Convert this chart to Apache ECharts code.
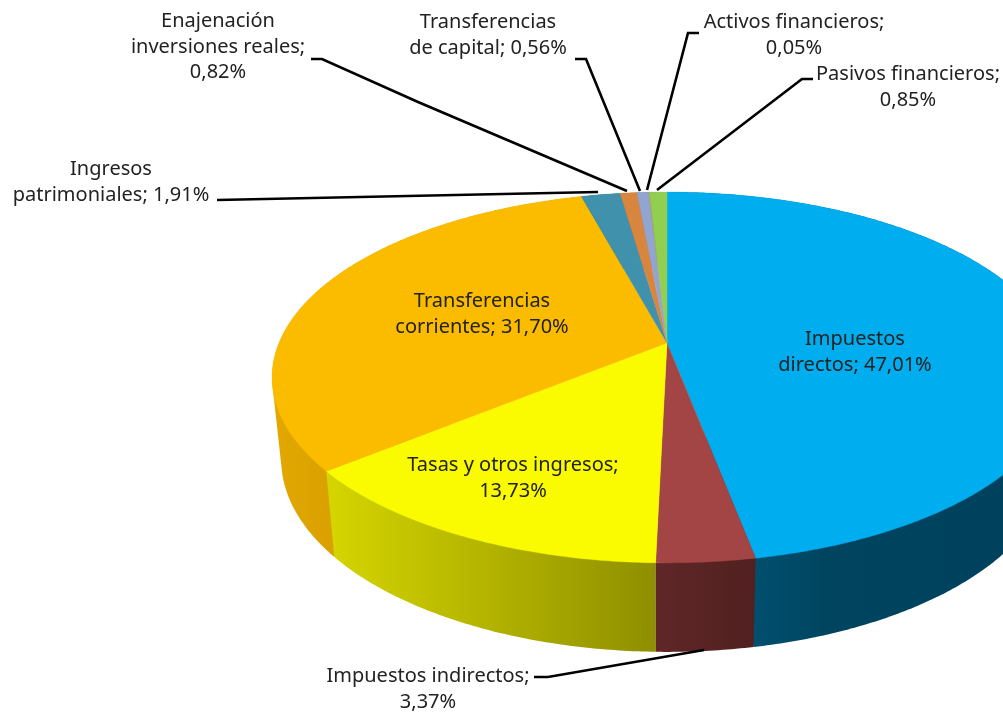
<!DOCTYPE html>
<html><head><meta charset="utf-8">
<style>html,body{margin:0;padding:0;background:#fff}#c{width:1003px;height:715px}</style>
<script src="https://cdn.jsdelivr.net/npm/echarts@6/dist/echarts.min.js"></script>
</head><body><div id="c"></div>
<script>
const categories = ['Impuestos directos','Impuestos indirectos','Tasas y otros ingresos','Transferencias corrientes','Ingresos patrimoniales','Enajenación inversiones reales','Transferencias de capital','Activos financieros','Pasivos financieros'];
const shares = [47.01,3.37,13.73,31.70,1.91,0.82,0.56,0.05,0.85];
const labelTemplates = ['Impuestos\ndirectos; {p}','Impuestos indirectos;\n{p}','Tasas y otros ingresos;\n{p}','Transferencias\ncorrientes; {p}','Ingresos\npatrimoniales; {p}','Enajenación\ninversiones reales;\n{p}','Transferencias\nde capital; {p}','Activos financieros;\n{p}','Pasivos financieros;\n{p}'];
const topColors = ['#00AEEF','#A34544','#FAFA00','#FBBC00','#3F91AC','#D8853E','#92A5D0','#B59A8A','#92CF50'];
const sideStops = [
  [752,1003,[[0,'#00506F'],[0.3,'#00445F'],[1,'#00425E']]],
  [655,752,[[0,'#602727'],[1,'#512020']]],
  [334,655,[[0,'#D4D400'],[1,'#8F8F00']]],
  [272,334,[[0,'#E3A800'],[1,'#D9A000']]],
  [0,1003,[[0,'#2A6070'],[1,'#2A6070']]],
  [0,1003,[[0,'#905828'],[1,'#905828']]],
  [0,1003,[[0,'#606E8A'],[1,'#606E8A']]],
  [0,1003,[[0,'#786658'],[1,'#786658']]],
  [0,1003,[[0,'#608A34'],[1,'#608A34']]]
];
const labelAnchors = [[855,352],[428,689],[513,478],[482,314],[111,182],[218,47],[488,35],[794,35],[908,87]];
const leaderPaths = [null,
  [[534,677],[548,677],[704,650]],null,null,
  [[217,200],[598,192]],
  [[311,59],[322,59],[418,102],[627,191]],
  [[575,59],[586,59],[640,191]],
  [[699,33],[688,33],[647,190]],
  [[813,79],[802,79],[657,190]]
];
const TOP = {x:667,y:343,r:388,s:179,k:0.186};
const BASE = {x:667,y:424,r:379,s:185.5,k:0.186};
function project(f,a){const u=Math.sin(a),v=-Math.cos(a),w=1-f.k*v;return [f.x+f.r*u/w,f.y+f.s*v/w];}
function arc(f,a0,a1){const n=Math.max(2,Math.ceil((a1-a0)/0.01));const p=[];for(let i=0;i<=n;i++)p.push(project(f,a0+(a1-a0)*i/n));return p;}
function hull(points){
  const p=points.slice().sort((a,b)=>a[0]-b[0]||a[1]-b[1]);
  const cross=(o,a,b)=>(a[0]-o[0])*(b[1]-o[1])-(a[1]-o[1])*(b[0]-o[0]);
  const lo=[],up=[];
  for(const q of p){while(lo.length>1&&cross(lo[lo.length-2],lo[lo.length-1],q)<=0)lo.pop();lo.push(q);}
  for(let i=p.length-1;i>=0;i--){const q=p[i];while(up.length>1&&cross(up[up.length-2],up[up.length-1],q)<=0)up.pop();up.push(q);}
  lo.pop();up.pop();return lo.concat(up);
}
function angles(api,i){
  let before=0;const total=shares.reduce((a,b)=>a+b,0);
  for(let j=0;j<i;j++)before+=shares[j];
  const a0=before/total*Math.PI*2;
  return [a0,a0+api.value(0)/total*Math.PI*2];
}
const font='"Noto Sans", sans-serif';
const seriesData=shares.map((v,i)=>({name:categories[i],value:[v]}));
const chart=echarts.init(document.getElementById('c'),null,{renderer:'canvas'});
chart.setOption({
  backgroundColor:'#fff',animation:false,
  series:[
    {type:'custom',coordinateSystem:'none',silent:true,z:1,data:seriesData,
     renderItem(p,api){
       const [a0,a1]=angles(api,p.dataIndex);
       const pts=hull(arc(TOP,a0,a1).concat(arc(BASE,a0,a1)));
       const g=sideStops[p.dataIndex];
       const fill=new echarts.graphic.LinearGradient(g[0],0,g[1],0,g[2].map(s=>({offset:s[0],color:s[1]})),true);
       return {type:'polygon',z2:Math.round(-Math.cos((a0+a1)/2)*1000)+1000,shape:{points:pts},style:{fill:fill}};
     }},
    {type:'custom',coordinateSystem:'none',silent:true,z:2,data:seriesData,
     renderItem(p,api){
       const [a0,a1]=angles(api,p.dataIndex);
       const c=topColors[p.dataIndex];
       const pts=[[TOP.x,TOP.y]].concat(arc(TOP,a0,a1));
       return {type:'polygon',shape:{points:pts},style:{fill:c,stroke:c,lineWidth:0.4}};
     }},
    {type:'custom',coordinateSystem:'none',silent:true,z:3,data:seriesData,
     renderItem(p,api){
       const i=p.dataIndex,kids=[];
       if(leaderPaths[i])kids.push({type:'polyline',shape:{points:leaderPaths[i]},style:{stroke:'#000',lineWidth:2.6,fill:null}});
       const txt=labelTemplates[i].replace('{p}',api.value(0).toFixed(2).replace('.',',')+'%');
       kids.push({type:'text',x:labelAnchors[i][0],y:labelAnchors[i][1],style:{text:txt,align:'center',verticalAlign:'middle',font:'20px '+font,lineHeight:25.7,fill:'#222'}});
       return {type:'group',children:kids};
     }}
  ]
});
</script></body></html>
